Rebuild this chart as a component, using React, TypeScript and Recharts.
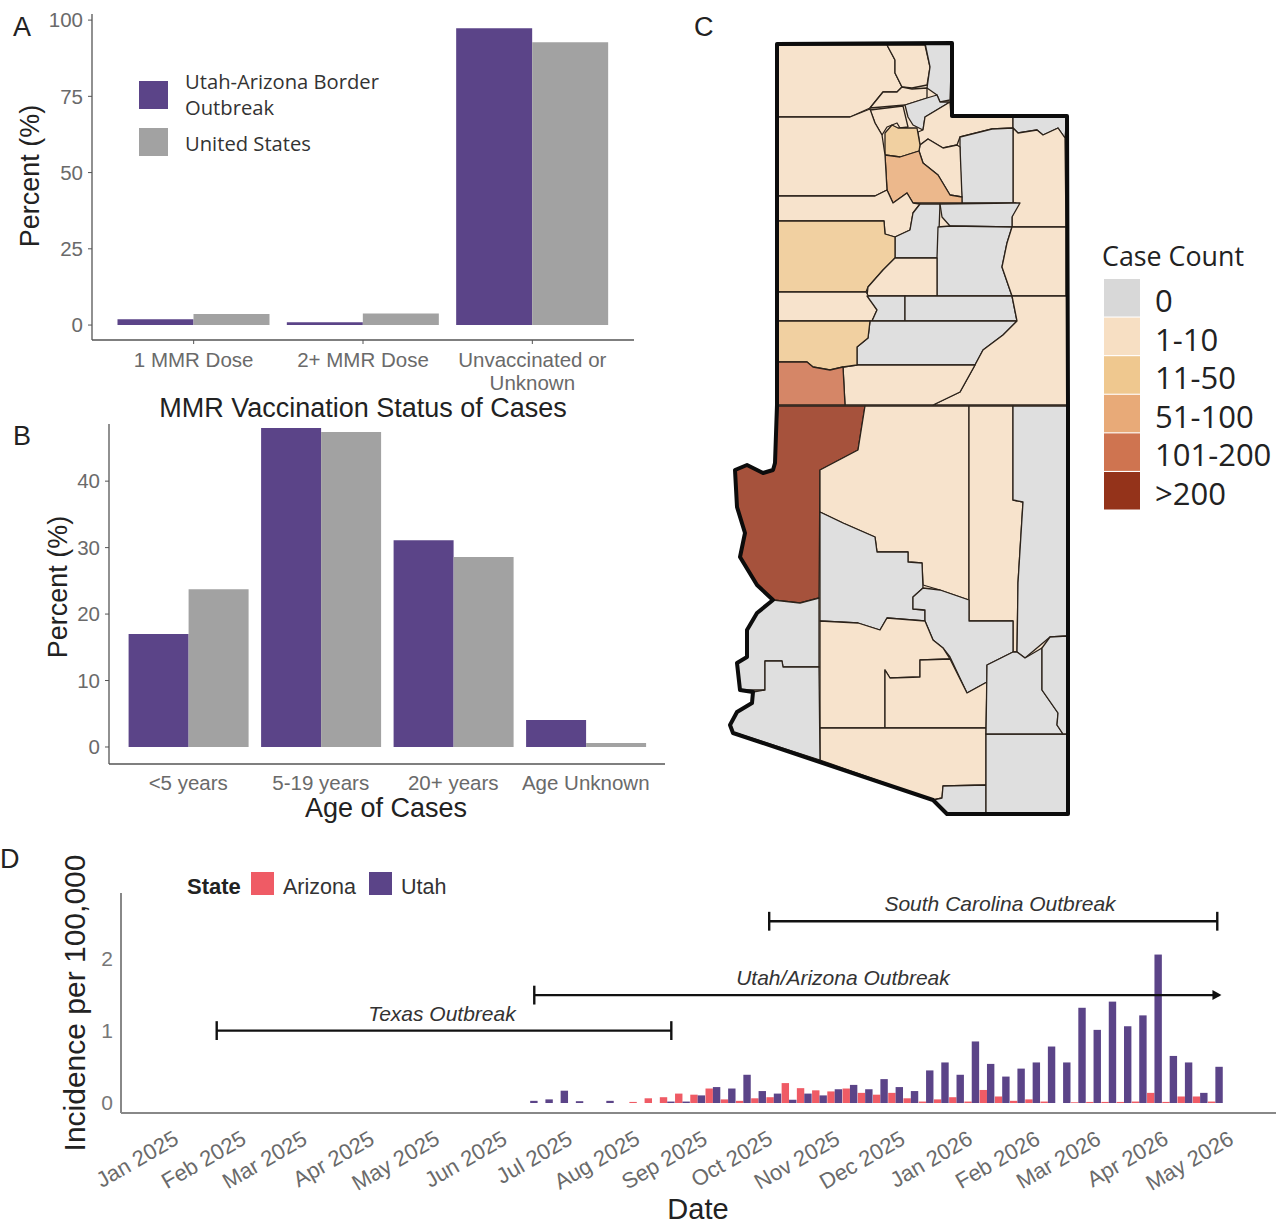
import React from "react";
import { BarChart, ComposedChart, ScatterChart, Bar, Scatter, XAxis, YAxis, ReferenceLine, Polygon } from "recharts";

const SANS = '"Liberation Sans", Arial, sans-serif';
const OPEN = '"Open Sans", sans-serif';
const PURPLE = "#5b4488";
const GRAY = "#a2a2a2";
const RED = "#ef5b65";

// Panel A
const vaxCategories = [["1 MMR Dose"], ["2+ MMR Dose"], ["Unvaccinated or", "Unknown"]];
const vaxOutbreak = [1.9, 0.9, 97.3];
const vaxUS = [3.6, 3.8, 92.7];
const vaxData = vaxCategories.map((lines, i) => ({ name: lines.join(" "), lines, outbreak: vaxOutbreak[i], us: vaxUS[i] }));
const vaxTicks = [0, 25, 50, 75, 100];

// Panel B
const ageCategories = ["<5 years", "5-19 years", "20+ years", "Age Unknown"];
const ageOutbreak = [17, 48, 31.1, 4.05];
const ageUS = [23.75, 47.4, 28.6, 0.6];
const ageData = ageCategories.map((name, i) => ({ name, outbreak: ageOutbreak[i], us: ageUS[i] }));
const ageTicks = [0, 10, 20, 30, 40];

// Panel D
const weekEnding = [
  "2025-06-14", "2025-06-21", "2025-06-28", "2025-07-05", "2025-07-12", "2025-07-19", "2025-07-26", "2025-08-02",
  "2025-08-09", "2025-08-16", "2025-08-23", "2025-08-30", "2025-09-06", "2025-09-13", "2025-09-20", "2025-09-27",
  "2025-10-04", "2025-10-11", "2025-10-18", "2025-10-25", "2025-11-01", "2025-11-08", "2025-11-15", "2025-11-22",
  "2025-11-29", "2025-12-06", "2025-12-13", "2025-12-20", "2025-12-27", "2026-01-03", "2026-01-10", "2026-01-17",
  "2026-01-24", "2026-01-31", "2026-02-07", "2026-02-14", "2026-02-21", "2026-02-28", "2026-03-07", "2026-03-14",
  "2026-03-21", "2026-03-28", "2026-04-04", "2026-04-11", "2026-04-18", "2026-04-25",
];
const utahIncidence = [
  0.03, 0.05, 0.17, 0.025, 0, 0.03, 0, 0, 0, 0.02, 0.02, 0.105, 0.22, 0.2, 0.39, 0.165,
  0.13, 0.045, 0.13, 0.105, 0.19, 0.25, 0.19, 0.33, 0.22, 0.165, 0.45, 0.56, 0.39, 0.85,
  0.54, 0.365, 0.475, 0.56, 0.78, 0.56, 1.315, 1.01, 1.4, 1.06, 1.21, 2.05, 0.65, 0.56, 0.14, 0.5,
];
const arizonaIncidence = [
  0, 0, 0, 0, 0, 0, 0, 0.015, 0.065, 0.08, 0.13, 0.115, 0.2, 0.05, 0.03, 0.065,
  0.08, 0.275, 0.205, 0.175, 0.16, 0.2, 0.14, 0.115, 0.14, 0.065, 0.02, 0.05, 0.08, 0.02,
  0.18, 0.09, 0.03, 0.05, 0.02, 0, 0.01, 0.015, 0.015, 0.015, 0.02, 0.14, 0.015, 0.09, 0.09, 0.02,
];
const monthStarts = [
  "2025-01-01", "2025-02-01", "2025-03-01", "2025-04-01", "2025-05-01", "2025-06-01", "2025-07-01", "2025-08-01", "2025-09-01",
  "2025-10-01", "2025-11-01", "2025-12-01", "2026-01-01", "2026-02-01", "2026-03-01", "2026-04-01", "2026-05-01",
];
const monthLabels = [
  "Jan 2025", "Feb 2025", "Mar 2025", "Apr 2025", "May 2025", "Jun 2025", "Jul 2025", "Aug 2025", "Sep 2025",
  "Oct 2025", "Nov 2025", "Dec 2025", "Jan 2026", "Feb 2026", "Mar 2026", "Apr 2026", "May 2026",
];
const toDay = (iso: string) => Math.round((Date.parse(iso) - Date.parse("2025-01-01")) / 86400000);
const incidenceData = weekEnding.map((w, i) => ({ day: toDay(w), arizona: arizonaIncidence[i], utah: utahIncidence[i] }));
const monthTicks = monthStarts.map(toDay);
const incidenceTicks = [0, 1, 2];
const outbreaks = [
  { name: "Texas Outbreak", start: "2025-01-21", end: "2025-08-18", level: 1.0, capStart: true, capEnd: true, arrow: false },
  { name: "Utah/Arizona Outbreak", start: "2025-06-16", end: "2026-04-27", level: 1.49, capStart: true, capEnd: false, arrow: true },
  { name: "South Carolina Outbreak", start: "2025-10-02", end: "2026-04-26", level: 2.51, capStart: true, capEnd: true, arrow: false },
];

// Panel C: case-count bands and county outlines (map units)
const bandLabels = ["0", "1-10", "11-50", "51-100", "101-200", ">200"];
const bandColors = ["#d8d8d8", "#f7dfc3", "#efc88f", "#e8aa78", "#cf7450", "#94331a"];
const mapColors = ["#dfdfdf", "#f7e3cc", "#f1d0a1", "#ecb88c", "#d58667", "#a6523c"];
const boxElder = [[777,45],[887,45],[895,60],[895,73],[902,87],[897,92],[883,92],[870,108],[850,117],[777,117]];
const cache = [[887,45],[925,45],[930,67],[927,85],[912,88],[902,87],[895,73],[895,60]];
const rich = [[925,43],[952,43],[950,100],[940,102],[937,95],[927,88],[930,67]];
const weber = [[883,92],[897,92],[902,87],[912,89],[927,88],[927,98],[905,105],[870,108]];
const saltLake = [[870,110],[903,106],[908,127],[900,128],[897,123],[887,127],[882,135],[875,123]];
const morgan = [[905,105],[927,98],[937,95],[940,102],[950,102],[925,117],[923,130],[913,125],[908,117]];
const summit = [[950,102],[951,116],[1013,117],[1013,128],[992,129],[960,137],[957,145],[943,148],[928,139],[920,145],[918,132],[923,130],[925,117]];
const daggett = [[1013,117],[1067,116],[1065,138],[1058,128],[1043,135],[1037,130],[1018,133],[1013,128]];
const uintah = [[1013,128],[1018,133],[1037,130],[1043,135],[1058,128],[1065,138],[1066,227],[1012,227],[1012,217],[1016,203],[1013,203]];
const duchesne = [[960,137],[992,129],[1013,128],[1013,203],[962,203],[960,163],[960,145]];
const wasatch = [[920,145],[928,139],[943,148],[957,145],[960,147],[962,197],[950,195],[938,175],[923,163],[919,151]];
const tanNorth = [[885,133],[892,125],[898,128],[917,128],[920,145],[919,151],[900,157],[885,155]];
const utahCounty = [[885,155],[900,157],[919,151],[923,163],[938,175],[950,195],[962,197],[962,203],[913,203],[907,193],[893,203],[887,190]];
const tooele = [[777,117],[850,117],[870,109],[875,123],[882,135],[885,155],[887,190],[875,196],[777,196]];
const juab = [[777,196],[875,196],[887,190],[893,203],[907,193],[913,203],[920,204],[913,213],[910,230],[895,237],[885,234],[884,221],[777,221]];
const sanpete = [[920,204],[940,204],[938,258],[895,258],[895,237],[910,230],[913,213]];
const carbon = [[940,204],[1013,203],[1020,203],[1012,217],[1012,227],[950,226],[942,217]];
const emery = [[938,227],[950,226],[1012,227],[1007,243],[1002,267],[1012,296],[937,296],[937,258]];
const grand = [[1012,227],[1066,227],[1066,296],[1012,296],[1002,267],[1007,243]];
const millard = [[777,221],[884,221],[885,234],[895,237],[895,258],[883,270],[868,287],[866,292],[777,292]];
const sevier = [[895,258],[937,258],[937,296],[867,296],[868,287],[883,270]];
const beaver = [[777,292],[866,292],[877,310],[872,321],[777,321]];
const piute = [[867,296],[905,296],[905,321],[872,321],[877,310]];
const wayne = [[905,296],[1012,296],[1017,321],[905,321]];
const garfield = [[870,321],[1017,321],[1003,335],[983,350],[975,365],[857,365],[857,347],[868,338]];
const sanJuan = [[1012,296],[1067,296],[1068,405],[933,405],[960,392],[975,365],[983,350],[1003,335],[1017,321]];
const kane = [[843,367],[857,365],[975,365],[960,392],[933,405],[845,405]];
const iron = [[777,321],[870,321],[868,338],[857,347],[857,365],[843,367],[830,370],[813,367],[807,362],[777,362]];
const washington = [[777,362],[807,362],[813,367],[830,370],[843,367],[845,405],[777,405]];
const mohave = [[778,406],[865,406],[858,450],[820,470],[819,598],[800,603],[773,600],[757,585],[740,557],[745,533],[737,507],[735,470],[747,465],[763,473],[773,470],[775,463]];
const coconino = [[865,406],[969,406],[969,600],[940,590],[923,585],[922,563],[908,562],[908,552],[877,552],[875,537],[843,523],[820,512],[820,470],[858,450]];
const navajo = [[969,406],[1013,406],[1013,500],[1023,502],[1018,583],[1017,652],[1013,652],[1013,621],[969,621]];
const apache = [[1013,406],[1067,406],[1067,636],[1050,637],[1025,658],[1017,652],[1018,583],[1023,502],[1013,500]];
const yavapai = [[820,512],[843,523],[875,537],[877,552],[908,552],[908,562],[922,563],[923,588],[913,597],[913,609],[925,610],[925,621],[887,618],[880,630],[858,623],[820,621]];
const gila = [[923,588],[940,590],[969,600],[969,621],[1013,621],[1013,652],[987,665],[987,682],[967,693],[950,657],[943,648],[933,640],[925,621],[925,610],[913,609],[913,597]];
const maricopa = [[820,621],[858,623],[880,630],[887,618],[925,621],[933,640],[943,648],[950,659],[920,660],[920,677],[890,678],[885,670],[885,728],[820,728]];
const pinal = [[885,670],[890,678],[920,677],[920,660],[950,659],[967,693],[987,682],[986,728],[885,728]];
const pima = [[820,728],[986,728],[986,785],[943,786],[942,798],[933,800],[820,760]];
const santaCruz = [[943,786],[986,785],[986,814],[947,814],[933,800],[942,798]];
const cochise = [[986,734],[1067,734],[1067,814],[986,814]];
const graham = [[987,665],[1013,652],[1017,652],[1025,658],[1042,648],[1042,690],[1058,713],[1057,725],[1063,734],[986,734]];
const greenlee = [[1042,648],[1050,637],[1067,636],[1067,734],[1063,734],[1057,725],[1058,713],[1042,690]];
const laPaz = [[773,600],[800,603],[819,598],[819,667],[783,667],[782,661],[765,661],[765,690],[740,690],[737,663],[747,657],[747,630],[757,613]];
const yuma = [[765,661],[782,661],[783,667],[819,667],[820,760],[733,732],[730,725],[737,712],[752,703],[753,692],[765,690]];
const stateOutline = [[777,44],[952,43],[952,116],[1067,116],[1068,405],[1068,814],[947,814],[933,800],[733,733],[730,725],[737,712],[752,703],[753,692],[740,690],[737,663],[747,657],[747,630],[757,613],[773,600],[757,585],[740,557],[745,533],[737,507],[735,470],[747,465],[763,473],[773,470],[775,463],[777,405]];
const counties: [number[][], number][] = [
  [boxElder, 1], [cache, 1], [rich, 0], [weber, 1], [saltLake, 1], [morgan, 0], [summit, 1], [daggett, 0], [uintah, 1],
  [duchesne, 0], [wasatch, 1], [tanNorth, 2], [utahCounty, 3], [tooele, 1], [juab, 1], [sanpete, 0], [carbon, 0], [emery, 0],
  [grand, 1], [millard, 2], [sevier, 1], [beaver, 1], [piute, 0], [wayne, 0], [garfield, 0], [sanJuan, 1], [kane, 1], [iron, 2],
  [washington, 4], [mohave, 5], [coconino, 1], [navajo, 1], [apache, 0], [yavapai, 0], [gila, 0], [maricopa, 1], [pinal, 1],
  [pima, 1], [santaCruz, 0], [cochise, 0], [graham, 0], [greenlee, 0], [laPaz, 0], [yuma, 0],
];
const toPts = (a: number[][]) => a.map(([x, y]) => ({ x, y }));

const axisTick = { fontFamily: SANS, fontSize: 20.5, fill: "#6a6a6a" };
const axisLine = { stroke: "#555", strokeWidth: 1.3 };

const MultiTick = ({ x, y, payload }: any) => {
  const row = vaxData.find((d) => d.name === payload.value);
  return (
    <text x={x} y={y + 21} textAnchor="middle" fontFamily={SANS} fontSize={20.5} fill="#6a6a6a">
      {(row ? row.lines : [payload.value]).map((l, i) => (
        <tspan key={i} x={x} dy={i === 0 ? 0 : 22.5}>{l}</tspan>
      ))}
    </text>
  );
};

const MonthTick = ({ x, y, index }: any) => (
  <text x={x + 7} y={y + 22} textAnchor="end" transform={`rotate(-30 ${x + 7} ${y + 22})`}
    fontFamily={SANS} fontSize={22} fill="#6a6a6a">
    {monthLabels[index]}
  </text>
);

const WEEK_BAR = 7.4;
const ArizonaBar = ({ x, y, width, height, fill }: any) => <rect x={x + width - WEEK_BAR} y={y} width={WEEK_BAR} height={height} fill={fill} />;
const UtahBar = ({ x, y, height, fill }: any) => <rect x={x} y={y} width={WEEK_BAR} height={height} fill={fill} />;

const Arrow = ({ cx, cy }: any) => <path d={`M${cx - 7},${cy - 5} L${cx + 2},${cy} L${cx - 7},${cy + 5} Z`} fill="#111" />;

const T = (p: any) => (
  <text x={p.x} y={p.y} fontFamily={p.f || SANS} fontSize={p.s} fill={p.c || "#222"} textAnchor={p.a || "start"} fontWeight={p.w}
    fontStyle={p.i ? "italic" : undefined} letterSpacing={p.ls} transform={p.r ? `rotate(${p.r} ${p.x} ${p.y})` : undefined}>{p.t}</text>
);

const box = (left: number, top: number): React.CSSProperties => ({ position: "absolute", left, top });

export default function App() {
  return (
    <div style={{ position: "absolute", left: 0, top: 0, width: 1280, height: 1224, background: "#fff", overflow: "hidden" }}>
      <div style={box(0, 0)}>
        <BarChart width={640} height={400} data={vaxData} margin={{ top: 14, right: 6, bottom: 0, left: 52 }} barCategoryGap={8.5} barGap={0}>
          <XAxis dataKey="name" interval={0} padding={{ left: 17, right: 17 }} height={60} tick={<MultiTick />} tickSize={4} axisLine={axisLine} tickLine={{ stroke: "#555" }} />
          <YAxis width={40} type="number" domain={[-4.9, 102]} allowDataOverflow ticks={vaxTicks} tick={axisTick} tickSize={4} tickMargin={5} axisLine={axisLine} tickLine={{ stroke: "#555" }} />
          <Bar dataKey="outbreak" fill={PURPLE} isAnimationActive={false} />
          <Bar dataKey="us" fill={GRAY} isAnimationActive={false} />
        </BarChart>
      </div>
      <div style={box(0, 424)}>
        <BarChart width={670} height={396} data={ageData} margin={{ top: 0, right: 5, bottom: 0, left: 69 }} barCategoryGap={6.6} barGap={0}>
          <XAxis dataKey="name" interval={0} padding={{ left: 13, right: 13 }} height={56} tick={axisTick} tickSize={0} tickMargin={11} axisLine={axisLine} />
          <YAxis width={40} type="number" domain={[-2.56, 48.6]} allowDataOverflow ticks={ageTicks} tick={axisTick} tickSize={4} tickMargin={5} axisLine={axisLine} tickLine={{ stroke: "#555" }} />
          <Bar dataKey="outbreak" fill={PURPLE} isAnimationActive={false} />
          <Bar dataKey="us" fill={GRAY} isAnimationActive={false} />
        </BarChart>
      </div>
      <div style={box(720, 30)}>
        <ScatterChart width={360} height={800} margin={{ top: 0, right: 0, bottom: 0, left: 0 }}>
          <XAxis hide dataKey="x" type="number" domain={[720, 1080]} />
          <YAxis hide dataKey="y" type="number" domain={[30, 830]} reversed width={0} />
          <Scatter data={toPts(stateOutline)} isAnimationActive={false} shape={() => <g />}
            line={(p: any) => <Polygon points={p.points} fill="#f7e3cc" stroke="none" />} />
          {counties.map(([outline, band], i) => (
            <Scatter key={i} data={toPts(outline)} isAnimationActive={false} shape={() => <g />}
              line={(p: any) => <Polygon points={p.points} fill={mapColors[band]} stroke="#2b221a" strokeWidth={1.3} strokeLinejoin="round" />} />
          ))}
          <Scatter data={toPts(stateOutline)} isAnimationActive={false} shape={() => <g />}
            line={(p: any) => <Polygon points={p.points} fill="none" stroke="#0c0c0c" strokeWidth={4} strokeLinejoin="round" />} />
        </ScatterChart>
      </div>
      <div style={box(0, 880)}>
        <ComposedChart width={1280} height={344} data={incidenceData} margin={{ top: 13, right: 4, bottom: 0, left: 81 }} barGap={0}>
          <XAxis dataKey="day" type="number" domain={[-24, 507]} allowDataOverflow ticks={monthTicks} interval={0} height={111} tick={<MonthTick />} tickLine={false} axisLine={{ stroke: "#888", strokeWidth: 2 }} />
          <YAxis width={40} type="number" domain={[-0.138, 2.9]} allowDataOverflow ticks={incidenceTicks} tick={{ ...axisTick, fontSize: 21, fill: "#777" }} tickLine={false} tickMargin={2} axisLine={{ stroke: "#888", strokeWidth: 2 }} />
          <Bar dataKey="arizona" fill={RED} shape={<ArizonaBar />} isAnimationActive={false} />
          <Bar dataKey="utah" fill={PURPLE} shape={<UtahBar />} isAnimationActive={false} />
          {outbreaks.map((o) => (
            <ReferenceLine key={o.name} segment={[{ x: toDay(o.start), y: o.level }, { x: toDay(o.end), y: o.level }]} stroke="#111" strokeWidth={2.4} ifOverflow="visible" />
          ))}
          {outbreaks.filter((o) => o.capStart).map((o) => (
            <ReferenceLine key={o.name + "s"} segment={[{ x: toDay(o.start), y: o.level - 0.13 }, { x: toDay(o.start), y: o.level + 0.13 }]} stroke="#111" strokeWidth={2.4} />
          ))}
          {outbreaks.filter((o) => o.capEnd).map((o) => (
            <ReferenceLine key={o.name + "e"} segment={[{ x: toDay(o.end), y: o.level - 0.13 }, { x: toDay(o.end), y: o.level + 0.13 }]} stroke="#111" strokeWidth={2.4} />
          ))}
          <Scatter data={outbreaks.filter((o) => o.arrow).map((o) => ({ day: toDay(o.end), level: o.level }))} dataKey="level" isAnimationActive={false} shape={<Arrow />} />
        </ComposedChart>
      </div>
      <svg width={1280} height={1224} style={{ position: "absolute", left: 0, top: 0, pointerEvents: "none" }}>
        <T x={13} y={36} s={27} t="A" />
        <T x={13} y={445} s={27} t="B" />
        <T x={694} y={36} s={27} t="C" />
        <T x={0} y={868} s={27} t="D" />
        <T x={39} y={176} s={27} a="middle" r={-90} t="Percent (%)" />
        <T x={67} y={587} s={27} a="middle" r={-90} t="Percent (%)" />
        <T x={363} y={417} s={27} a="middle" t="MMR Vaccination Status of Cases" />
        <T x={386} y={817} s={27} a="middle" t="Age of Cases" />
        <T x={85} y={1003} s={30} a="middle" r={-90} t="Incidence per 100,000" />
        <T x={698} y={1219} s={29} a="middle" t="Date" />
        <rect x={139} y={81} width={29} height={28} fill={PURPLE} />
        <rect x={139} y={128} width={29} height={28} fill={GRAY} />
        <T x={185} y={89} s={20.2} f={OPEN} c="#333" t="Utah-Arizona Border" />
        <T x={185} y={115} s={20.2} f={OPEN} c="#333" t="Outbreak" />
        <T x={185} y={151} s={20.2} f={OPEN} c="#333" t="United States" />
        <T x={187} y={894} s={22} w="bold" t="State" />
        <rect x={251} y={872} width={23} height={23} fill={RED} />
        <T x={283} y={894} s={21.5} c="#333" t="Arizona" />
        <rect x={369} y={872} width={23} height={23} fill={PURPLE} />
        <T x={401} y={894} s={21.5} c="#333" t="Utah" />
        <T x={442} y={1021} s={21} c="#333" a="middle" i t="Texas Outbreak" />
        <T x={843} y={985} s={21} c="#333" a="middle" i t="Utah/Arizona Outbreak" />
        <T x={1000} y={911} s={21} c="#333" a="middle" i t="South Carolina Outbreak" />
        <T x={1102} y={266} s={26.8} f={OPEN} c="#222" t="Case Count" />
        {bandLabels.map((l, i) => (
          <g key={l}>
            <rect x={1104} y={279 + i * 38.6} width={36} height={37.5} fill={bandColors[i]} />
            <T x={1155} y={312 + i * 38.6} s={31} f={OPEN} c="#222" t={l} />
          </g>
        ))}
      </svg>
    </div>
  );
}
